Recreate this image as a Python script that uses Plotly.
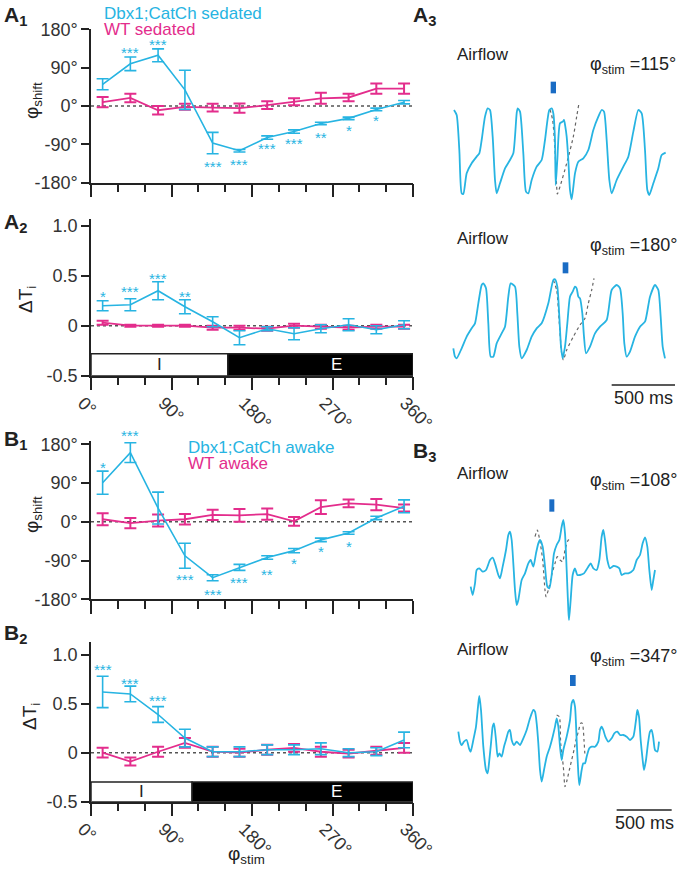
import plotly.graph_objects as go

W, H = 682, 875
CYAN = "#27b4e2"
MAG = "#e32d8c"
STIMBLUE = "#1a6cc4"
INK = "#222222"
FONT = "Liberation Sans, Arial, sans-serif"

# ---------------- data (left panels) ----------------
phi_stim = [13, 44, 75, 105, 136, 166, 197, 227, 257, 288, 319, 350]

a1_dbx = [51, 99, 119, 38, -87, -105, -74, -60, -41, -29, -8, 9]
a1_dbx_err = [13, 16, 15, 46, 25, 3, 4, 4, 3, 3, 3, 4]
a1_wt = [9, 19, -10, -2, -4, -5, 2, 10, 18, 20, 41, 41]
a1_wt_err = [12, 10, 10, 7, 9, 11, 9, 8, 13, 9, 12, 12]

a2_dbx = [0.20, 0.21, 0.35, 0.19, 0.04, -0.12, -0.03, -0.08, -0.03, 0.01, -0.04, 0.01]
a2_dbx_err = [0.05, 0.06, 0.09, 0.07, 0.05, 0.07, 0.02, 0.06, 0.04, 0.06, 0.04, 0.04]
a2_wt = [0.03, 0.0, 0.0, 0.0, -0.02, -0.02, -0.03, 0.0, -0.01, -0.02, -0.01, -0.01]
a2_wt_err = [0.02, 0.01, 0.01, 0.01, 0.02, 0.02, 0.02, 0.02, 0.02, 0.02, 0.02, 0.02]

b1_dbx = [91, 161, 32, -79, -130, -106, -83, -67, -42, -26, 9, 36]
b1_dbx_err = [27, 23, 37, 29, 7, 7, 4, 5, 4, 3, 4, 15]
b1_wt = [6, -3, 3, 6, 16, 15, 18, 1, 34, 43, 40, 32]
b1_wt_err = [14, 12, 14, 12, 12, 15, 13, 10, 16, 9, 13, 8]

b2_dbx = [0.62, 0.60, 0.39, 0.15, 0.01, 0.01, 0.03, 0.03, 0.04, 0.0, 0.01, 0.13]
b2_dbx_err = [0.16, 0.08, 0.08, 0.09, 0.05, 0.05, 0.05, 0.05, 0.06, 0.04, 0.04, 0.08]
b2_wt = [0.0, -0.09, 0.01, 0.10, 0.01, 0.0, 0.03, 0.05, 0.01, -0.01, 0.02, 0.05]
b2_wt_err = [0.05, 0.04, 0.05, 0.05, 0.05, 0.04, 0.05, 0.04, 0.05, 0.04, 0.04, 0.05]

# significance stars: (bin index, label, y position)
a1_stars = [(1, "***", 133), (2, "***", 151), (4, "***", -134), (5, "***", -130),
            (6, "***", -92), (7, "***", -80), (8, "**", -66), (9, "*", -50), (10, "*", -26)]
a2_stars = [(0, "*", 0.32), (1, "***", 0.37), (2, "***", 0.50), (3, "**", 0.32)]
b1_stars = [(0, "*", 133), (1, "***", 207), (3, "***", -127), (4, "***", -162),
            (5, "***", -133), (6, "**", -116), (7, "*", -90), (8, "*", -63), (9, "*", -50)]
b2_stars = [(0, "***", 0.88), (1, "***", 0.74), (2, "***", 0.56)]

# inspiration / expiration boundary (degrees)
a2_ie_boundary = 153
b2_ie_boundary = 113

phase_ticks = [0, 90, 180, 270, 360]
phase_minor = [30, 60, 120, 150, 210, 240, 300, 330]
phase_labels = ["0°", "90°", "180°", "270°", "360°"]
shift_ticks = [-180, -90, 0, 90, 180]
shift_labels = ["-180°", "-90°", "0°", "90°", "180°"]
dti_ticks = [-0.5, 0, 0.5, 1.0]
dti_labels = ["-0.5", "0", "0.5", "1.0"]

# ---------------- data (airflow traces, samples & amplitude units) ----------------
a3a_t = [102, 110, 118, 125, 130, 140, 155, 170, 178, 185, 195, 203, 210, 218, 225, 230, 240, 255,
         270, 280, 290, 293, 300, 310, 318, 325, 335, 350, 365, 375, 388, 395, 400, 405, 407, 412,
         420, 428, 432, 436, 440, 445, 450, 455, 465, 475, 490, 505, 520, 535, 545, 552, 560, 568,
         575, 590, 610, 625, 640, 655, 665, 675, 682, 688, 700, 715, 725, 737]
a3a_v = [210, 225, 330, 460, 462, 400, 370, 350, 340, 300, 230, 205, 210, 290, 420, 460, 430, 385,
         360, 340, 220, 205, 215, 340, 455, 460, 420, 380, 360, 300, 210, 205, 220, 300, 435, 360,
         250, 245, 240, 260, 290, 360, 450, 478, 400, 365, 355, 330, 270, 230, 210, 215, 300, 420,
         460, 420, 380, 350, 275, 210, 220, 330, 450, 465, 430, 385, 345, 338]
a3a_ctrl_t = [390, 398, 405, 410, 412, 420, 440, 460, 470, 476]
a3a_ctrl_v = [208, 240, 330, 440, 462, 440, 370, 290, 230, 195]

a3b_t = [100, 105, 110, 125, 140, 155, 165, 175, 185, 190, 198, 205, 212, 220, 230, 245, 255, 265,
         272, 285, 292, 298, 305, 320, 335, 350, 365, 385, 400, 405, 412, 418, 423, 428, 435, 442,
         450, 458, 465, 470, 475, 480, 487, 492, 498, 510, 525, 540, 560, 575, 590, 600, 608, 613,
         620, 630, 645, 660, 675, 690, 705, 715, 722, 728, 735]
a3b_v = [355, 380, 385, 355, 320, 295, 280, 220, 165, 160, 175, 280, 380, 380, 340, 310, 290, 200,
         160, 170, 250, 350, 385, 360, 320, 295, 280, 220, 150, 148, 170, 260, 350, 385, 350, 280,
         200, 185, 170, 175, 200, 205, 250, 320, 370, 350, 310, 290, 270, 180, 165, 175, 250, 340,
         380, 365, 320, 290, 275, 200, 165, 180, 260, 350, 385]
a3b_ctrl_t = [400, 410, 418, 425, 430, 440, 460, 480, 495, 505, 515, 522]
a3b_ctrl_v = [150, 180, 280, 370, 390, 360, 320, 285, 265, 220, 180, 145]

b3a_t = [152, 158, 165, 170, 178, 188, 198, 210, 218, 225, 235, 240, 248, 258, 265, 270, 275, 280,
         285, 290, 295, 305, 315, 325, 332, 340, 348, 355, 360, 368, 375, 382, 388, 395, 402, 410,
         418, 425, 430, 435, 440, 445, 447, 452, 458, 465, 472, 480, 492, 505, 512, 520, 530, 538,
         545, 550, 555, 562, 570, 580, 590, 598, 605, 615, 625, 640, 650, 660, 668, 675, 682, 688,
         695, 700, 705]
b3a_v = [380, 405, 370, 330, 325, 335, 330, 300, 293, 310, 345, 355, 320, 270, 225, 215, 240, 310,
         390, 435, 420, 360, 340, 310, 300, 320, 280, 250, 240, 260, 320, 380, 385, 345, 280, 255,
         240, 200, 180, 220, 330, 450, 480, 420, 345, 325, 345, 345, 340, 320, 310, 325, 330, 300,
         230, 210, 240, 300, 325, 318, 320, 325, 345, 340, 340, 330, 300, 285, 250, 232, 260, 330,
         390, 360, 330]
b3a_ctrl_t = [345, 352, 360, 368, 375, 378, 385, 395, 405, 412, 420, 428, 435, 445, 455]
b3a_ctrl_v = [230, 210, 245, 300, 390, 410, 390, 345, 310, 290, 300, 305, 270, 240, 240]

b3b_t = [115, 120, 125, 132, 140, 147, 152, 160, 168, 175, 178, 183, 190, 198, 203, 208, 213, 218,
         222, 228, 233, 238, 245, 252, 258, 265, 270, 275, 282, 290, 300, 310, 320, 330, 340, 345,
         350, 355, 360, 365, 372, 380, 390, 398, 405, 410, 415, 420, 425, 430, 440, 450, 455, 460,
         465, 470, 475, 478, 485, 490, 495, 500, 508, 515, 525, 535, 540, 545, 550, 556, 565, 575,
         583, 592, 600, 610, 620, 630, 640, 648, 652, 657, 662, 668, 672, 678, 684, 690, 695, 700,
         705, 712, 717]
b3b_v = [215, 245, 255, 245, 240, 265, 275, 240, 200, 130, 108, 150, 260, 330, 340, 300, 250, 200,
         190, 240, 290, 280, 290, 260, 240, 215, 210, 240, 255, 245, 255, 235, 210, 175, 150, 155,
         190, 250, 330, 365, 330, 290, 260, 230, 200, 175, 200, 260, 300, 270, 230, 180, 130, 120,
         140, 240, 340, 375, 330, 310, 310, 290, 265, 260, 260, 245, 210, 200, 210, 230, 245, 235,
         220, 215, 225, 225, 230, 240, 230, 180, 150, 170, 240, 300, 330, 300, 250, 215, 210, 235,
         270, 275, 245]
b3b_ctrl_t = [410, 418, 422, 430, 435, 440, 448, 455, 462, 468, 475, 482, 487, 492, 495]
b3b_ctrl_v = [165, 170, 250, 320, 380, 365, 330, 300, 270, 240, 215, 190, 190, 240, 290]

# stimulus windows (sample units) and 500-ms scale bars
a3a_stim = (392, 408)
a3b_stim = (428, 445)
b3a_stim = (388, 403)
b3b_stim = (450, 467)
a3_scale_500ms = (575, 765)
b3_scale_500ms = (590, 755)


def xd(a, b):
    return [a / W, b / W]


def yd(top, bottom):
    return [1 - bottom / H, 1 - top / H]


def px(x):
    return x / W


def py(y):
    return 1 - y / H


fig = go.Figure()

left_panels = [
    ("", a1_dbx, a1_dbx_err, a1_wt, a1_wt_err, (29.3, 182.7), [-180, 180], shift_ticks, shift_labels, False, a1_stars),
    ("2", a2_dbx, a2_dbx_err, a2_wt, a2_wt_err, (218.7, 375.7), [-0.5, 1.07], dti_ticks, dti_labels, True, a2_stars),
    ("3", b1_dbx, b1_dbx_err, b1_wt, b1_wt_err, (441, 599.2), [-180, 188], shift_ticks, shift_labels, False, b1_stars),
    ("4", b2_dbx, b2_dbx_err, b2_wt, b2_wt_err, (642, 801.7), [-0.5, 1.13], dti_ticks, dti_labels, True, b2_stars),
]

layout_axes = {}
for suf, dbx, dbxe, wt, wte, (top, bot), yr, tv, tt, showx, stars in left_panels:
    xa = "x" + suf
    ya = "y" + suf
    fig.add_trace(go.Scatter(
        x=phi_stim, y=wt, xaxis=xa, yaxis=ya, mode="lines",
        line=dict(color=MAG, width=1.8),
        error_y=dict(type="data", array=wte, color=MAG, thickness=2, width=6),
        showlegend=False, hoverinfo="skip"))
    fig.add_trace(go.Scatter(
        x=phi_stim, y=dbx, xaxis=xa, yaxis=ya, mode="lines",
        line=dict(color=CYAN, width=1.6),
        error_y=dict(type="data", array=dbxe, color=CYAN, thickness=1.6, width=6),
        showlegend=False, hoverinfo="skip"))
    fig.add_shape(type="line", xref=xa, yref=ya, x0=0, x1=360, y0=0, y1=0,
                  line=dict(color="#555555", width=1.4, dash="dot"), layer="below")
    layout_axes["xaxis" + suf] = dict(
        domain=xd(91, 413), range=[0, 360], anchor=ya, showgrid=False, zeroline=False,
        automargin=False,
        showline=True, linecolor=INK, linewidth=1.5,
        ticks="outside", tickvals=phase_ticks, ticktext=phase_labels, ticklen=13, tickwidth=1.5,
        tickcolor=INK, showticklabels=showx, tickangle=45, ticklabelshift=-8, ticklabelstandoff=-5,
        tickfont=dict(size=18, color="#333333", family=FONT),
        minor=dict(tickvals=phase_minor, ticklen=8, tickwidth=1.5, tickcolor=INK, ticks="outside"))
    layout_axes["yaxis" + suf] = dict(
        domain=yd(top, bot), range=yr, anchor=xa, showgrid=False, zeroline=False,
        automargin=False,
        showline=True, linecolor=INK, linewidth=1.5, ticks="outside", ticklen=8, tickwidth=1.5,
        tickcolor=INK, tickvals=tv, ticktext=tt,
        tickfont=dict(size=18, color="#333333", family=FONT))
    # significance stars (kept inside the axis range, offset in pixels when beyond it)
    pix_per_unit = (bot - top) / (yr[1] - yr[0])
    for i, s, yv in stars:
        yc = min(max(yv, yr[0]), yr[1])
        shift = (yv - yc) * pix_per_unit - 3
        fig.add_annotation(xref=xa, yref=ya, x=phi_stim[i], y=yc, text=s,
                           showarrow=False, yshift=shift,
                           font=dict(size=15, color=CYAN, family=FONT))

# I / E bars
for suf, b in (("2", a2_ie_boundary), ("4", b2_ie_boundary)):
    ytop = -0.28 if suf == "2" else -0.30
    fig.add_shape(type="rect", xref="x" + suf, yref="y" + suf, x0=0, x1=b, y0=-0.5, y1=ytop,
                  fillcolor="white", line=dict(color=INK, width=1.5))
    fig.add_shape(type="rect", xref="x" + suf, yref="y" + suf, x0=b, x1=360, y0=-0.5, y1=ytop,
                  fillcolor="black", line=dict(color=INK, width=1.5))
    ymid = (-0.5 + ytop) / 2
    fig.add_annotation(xref="x" + suf, yref="y" + suf, x=b / 2, y=ymid, text="I", showarrow=False,
                       font=dict(size=17, color=INK, family=FONT))
    fig.add_annotation(xref="x" + suf, yref="y" + suf, x=275, y=ymid, text="E", showarrow=False,
                       font=dict(size=17, color="white", family=FONT))

# ---------------- right panels (airflow) ----------------
right_panels = [
    ("5", a3a_t, a3a_v, a3a_ctrl_t, a3a_ctrl_v, (40, 240), 600),
    ("6", a3b_t, a3b_v, a3b_ctrl_t, a3b_ctrl_v, (230, 430), 600),
    ("7", b3a_t, b3a_v, b3a_ctrl_t, b3a_ctrl_v, (460, 660), 600),
    ("8", b3b_t, b3b_v, b3b_ctrl_t, b3b_ctrl_v, (660, 875), 645),
]
for suf, t, v, ct, cv, (top, bot), yspan in right_panels:
    xa, ya = "x" + suf, "y" + suf
    fig.add_trace(go.Scatter(x=ct, y=cv, xaxis=xa, yaxis=ya, mode="lines",
                             line=dict(color="#666666", width=1.2, dash="dot", shape="spline", smoothing=0.6),
                             showlegend=False, hoverinfo="skip"))
    fig.add_trace(go.Scatter(x=t, y=v, xaxis=xa, yaxis=ya, mode="lines",
                             line=dict(color=CYAN, width=1.8, shape="spline", smoothing=0.6),
                             showlegend=False, hoverinfo="skip"))
    layout_axes["xaxis" + suf] = dict(domain=xd(420, 682), range=[0, 786], anchor=ya, visible=False,
                                      automargin=False)
    layout_axes["yaxis" + suf] = dict(domain=yd(top, bot), range=[yspan, 0], anchor=xa, visible=False,
                                      automargin=False)

stim_y = {"5": (125, 160), "6": (97, 130), "7": (118, 155), "8": (45, 78)}
for suf, stim in (("5", a3a_stim), ("6", a3b_stim), ("7", b3a_stim), ("8", b3b_stim)):
    y0, y1 = stim_y[suf]
    fig.add_shape(type="rect", xref="x" + suf, yref="y" + suf, x0=stim[0], x1=stim[1], y0=y0, y1=y1,
                  fillcolor=STIMBLUE, line=dict(width=0))

fig.add_shape(type="line", xref="x6", yref="y6", x0=a3_scale_500ms[0], x1=a3_scale_500ms[1], y0=465, y1=465,
              line=dict(color=INK, width=1.5))
fig.add_shape(type="line", xref="x8", yref="y8", x0=b3_scale_500ms[0], x1=b3_scale_500ms[1], y0=450, y1=450,
              line=dict(color=INK, width=1.5))


def note(x, y, text, size=17, color=INK, xanchor="left", yanchor="middle", angle=0):
    fig.add_annotation(xref="paper", yref="paper", x=px(x), y=py(y), text=text, showarrow=False,
                       xanchor=xanchor, yanchor=yanchor, textangle=angle,
                       font=dict(size=size, color=color, family=FONT))


note(643, 398, "500 ms", size=18, xanchor="center")
note(644, 823, "500 ms", size=18, xanchor="center")

for y_air, y_phi, phi in ((55, 65, "115"), (238, 247, "180"), (473, 482, "108"), (649, 657, "347")):
    note(455, y_air, "Airflow", size=17)
    note(588, y_phi, "φ<sub>stim</sub> =" + phi + "°", size=18)

note(102, 13, "Dbx1;CatCh sedated", size=17, color=CYAN)
note(102, 30, "WT sedated", size=17, color=MAG)
note(186, 447, "Dbx1;CatCh awake", size=17, color=CYAN)
note(186, 464, "WT awake", size=17, color=MAG)

note(33, 101, "φ<sub>shift</sub>", size=19, xanchor="center", angle=-90)
note(27, 300, "ΔT<sub>i</sub>", size=19, xanchor="center", angle=-90)
note(33, 515, "φ<sub>shift</sub>", size=19, xanchor="center", angle=-90)
note(31, 717, "ΔT<sub>i</sub>", size=19, xanchor="center", angle=-90)
note(246, 855, "φ<sub>stim</sub>", size=19, xanchor="center")

for x, y, L, n in ((2, 16, "A", "1"), (2, 223, "A", "2"), (411, 16, "A", "3"),
                   (2, 440, "B", "1"), (2, 634, "B", "2"), (411, 452, "B", "3")):
    note(x, y, "<b>" + L + "</b><sub><b>" + n + "</b></sub>", size=21)

fig.update_layout(
    width=W, height=H, margin=dict(l=0, r=0, t=0, b=0, pad=0), autosize=False,
    paper_bgcolor="white", plot_bgcolor="rgba(0,0,0,0)",
    font=dict(family=FONT, color=INK), showlegend=False,
    **layout_axes)

fig.write_html("out.html", config={"displayModeBar": False},
               post_script="document.body.style.margin='0';")
